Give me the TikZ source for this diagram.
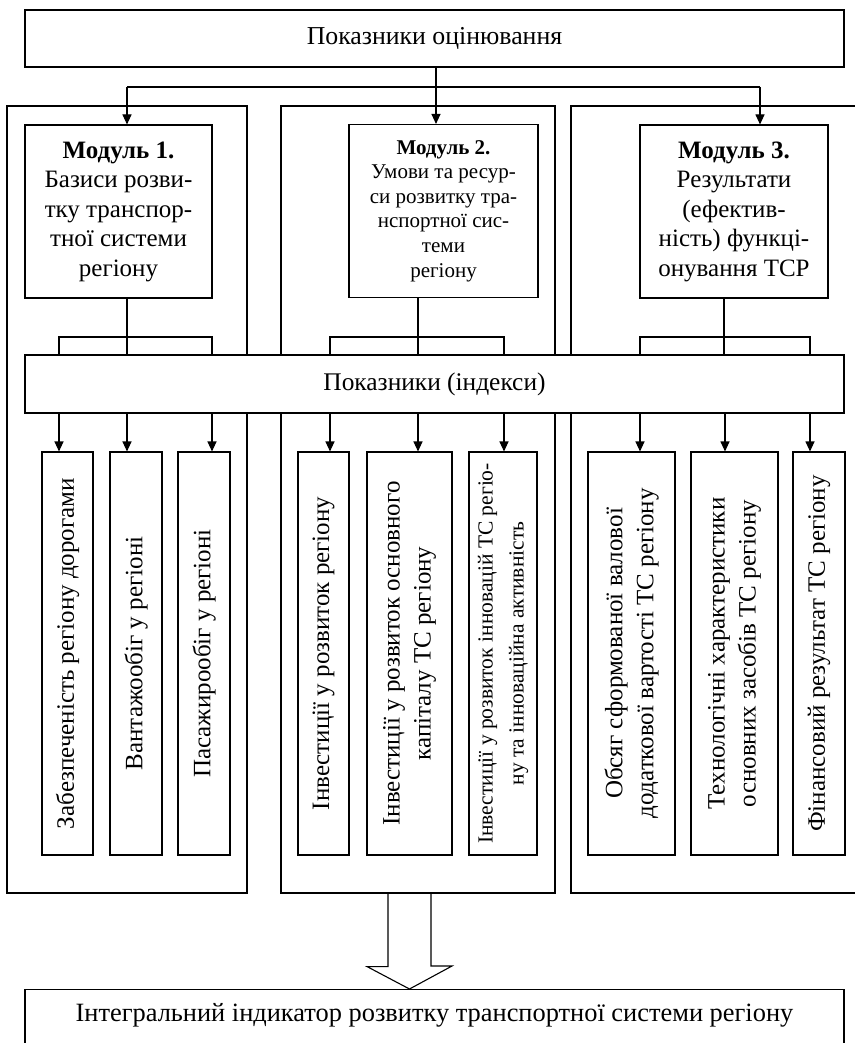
\documentclass[tikz,border=0pt]{standalone}
\usepackage{fontspec}
\setmainfont{Liberation Serif}
\usetikzlibrary{arrows.meta}
\begin{document}
\begin{tikzpicture}[x=1pt,y=-1pt,line width=1.1pt,
  box/.style={draw,fill=white,inner sep=0pt,align=center,font=\fontsize{25}{30}\selectfont},
  panel/.style={draw,inner sep=0pt,minimum height=787pt},
  modbox/.style={box,minimum height=173pt},
  vbox/.style={draw,inner sep=0pt,minimum height=403pt},
  vtext/.style={rotate=90,inner sep=0pt,align=center,font=\fontsize{25}{31}\selectfont},
  vsmall/.style={vtext,font=\fontsize{21.5}{31}\selectfont},
  arr/.style={-{Triangle[length=10pt,width=9pt]}}]
\useasboundingbox (0,0) rectangle (854,1043);

% top box
\node[box,minimum width=819pt,minimum height=57pt,font=\fontsize{25.8}{30}\selectfont] (top) at (434.5,38.5) {Показники оцінювання};

% panels
\node[panel,minimum width=240pt] (p1) at (127,499.5) {};
\node[panel,minimum width=274pt] (p2) at (418,499.5) {};
\node[panel,minimum width=291pt] (p3) at (716.5,499.5) {};

% modules
\node[modbox,minimum width=187pt,font=\fontsize{25}{29.5}\selectfont] (m1) at (118.5,211.5)
  {\textbf{Модуль 1.}\\Базиси розви-\\тку транспор-\\тної системи\\регіону};
\node[modbox,minimum width=189pt,font=\fontsize{21}{24.6}\selectfont] (m2) at (443.5,211)
  {\textbf{Модуль 2.}\\Умови та ресур-\\си розвитку тра-\\нспортної сис-\\теми\\регіону};
\node[modbox,minimum width=188pt,font=\fontsize{25}{29.5}\selectfont] (m3) at (734,211.5)
  {\textbf{Модуль 3.}\\Результати\\(ефектив-\\ність) функці-\\онування ТСР};

% index box
\node[box,minimum width=819pt,minimum height=58pt,font=\fontsize{25.4}{30}\selectfont] (idx) at (434.5,384) {Показники (індекси)};

% connectors from the top box
\coordinate (j) at (436,87);
\coordinate (hl) at (127,87);
\coordinate (hr) at (760,87);
\draw (top.south -| j) -- (j);
\draw (hl) -- (hr);
\draw[arr] (j) -- (m2.north -| j);
\draw[arr] (hl) -- (m1.north -| hl);
\draw[arr] (hr) -- (m3.north -| hr);

% module to index
\coordinate (d3) at (724,300);
\draw (m1.south -| hl) -- (idx.north -| hl);
\draw (m2.south -| p2.center) -- (idx.north -| p2.center);
\draw (m3.south -| d3) -- (idx.north -| d3);

% brackets
\coordinate (a1) at (59,337);   \coordinate (a2) at (127,337);  \coordinate (a3) at (212,337);
\coordinate (a4) at (330,337);  \coordinate (a5) at (418,337);  \coordinate (a6) at (504,337);
\coordinate (a7) at (640,337);  \coordinate (a8) at (725,337);  \coordinate (a9) at (810,337);
\draw (idx.north -| a1) -- (a1) -- (a3) -- (idx.north -| a3);
\draw (idx.north -| a4) -- (a4) -- (a6) -- (idx.north -| a6);
\draw (idx.north -| a7) -- (a7) -- (a9) -- (idx.north -| a9);

% indicator boxes
\node[vbox,minimum width=51pt,label={[vtext]center:Забезпеченість регіону дорогами}] (b1) at (67.5,653.5) {};
\node[vbox,minimum width=52pt,label={[vtext]center:Вантажообіг у регіоні}] (b2) at (136,653.5) {};
\node[vbox,minimum width=52pt,label={[vtext]center:Пасажирообіг у регіоні}] (b3) at (204,653.5) {};
\node[vbox,minimum width=51pt,label={[vtext]center:Інвестиції у розвиток регіону}] (b4) at (323.5,653.5) {};
\node[vbox,minimum width=85pt,label={[vtext]center:{Інвестиції у розвиток основного\\капіталу ТС регіону}}] (b5) at (409.5,653.5) {};
\node[vbox,minimum width=68pt,label={[vsmall]center:{Інвестиції у розвиток інновацій ТС регіо-\\ну та інноваційна активність}}] (b6) at (503,653.5) {};
\node[vbox,minimum width=87pt,label={[vtext]center:{Обсяг сформованої валової\\додаткової вартості ТС регіону}}] (b7) at (631.5,653.5) {};
\node[vbox,minimum width=87pt,label={[vtext]center:{Технологічні характеристики\\основних засобів ТС регіону}}] (b8) at (734.5,653.5) {};
\node[vbox,minimum width=52pt,label={[vtext]center:Фінансовий результат ТС регіону}] (b9) at (819,653.5) {};

% arrows to indicator boxes
\draw[arr] (idx.south -| a1) -- (b1.north -| a1);
\draw[arr] (idx.south -| a2) -- (b2.north -| a2);
\draw[arr] (idx.south -| a3) -- (b3.north -| a3);
\draw[arr] (idx.south -| a4) -- (b4.north -| a4);
\draw[arr] (idx.south -| a5) -- (b5.north -| a5);
\draw[arr] (idx.south -| a6) -- (b6.north -| a6);
\draw[arr] (idx.south -| a7) -- (b7.north -| a7);
\draw[arr] (idx.south -| a8) -- (b8.north -| a8);
\draw[arr] (idx.south -| a9) -- (b9.north -| a9);

% bottom box
\node[box,anchor=north,minimum width=819pt,inner ysep=15pt,text height=17pt,text depth=40pt,font=\fontsize{26.4}{30}\selectfont] (bot) at (434.5,989)
  {Інтегральний індикатор розвитку транспортної системи регіону};

% block arrow
\coordinate (fa) at (409.5,893);
\draw[line join=miter] ([xshift=-30pt]p2.south) -- ++(0,73) -- ++(-21,0) -- (bot.north -| fa)
  -- ++(42.5,-23) -- ++(-21,0) -- ([xshift=13pt]p2.south);
\end{tikzpicture}
\end{document}
